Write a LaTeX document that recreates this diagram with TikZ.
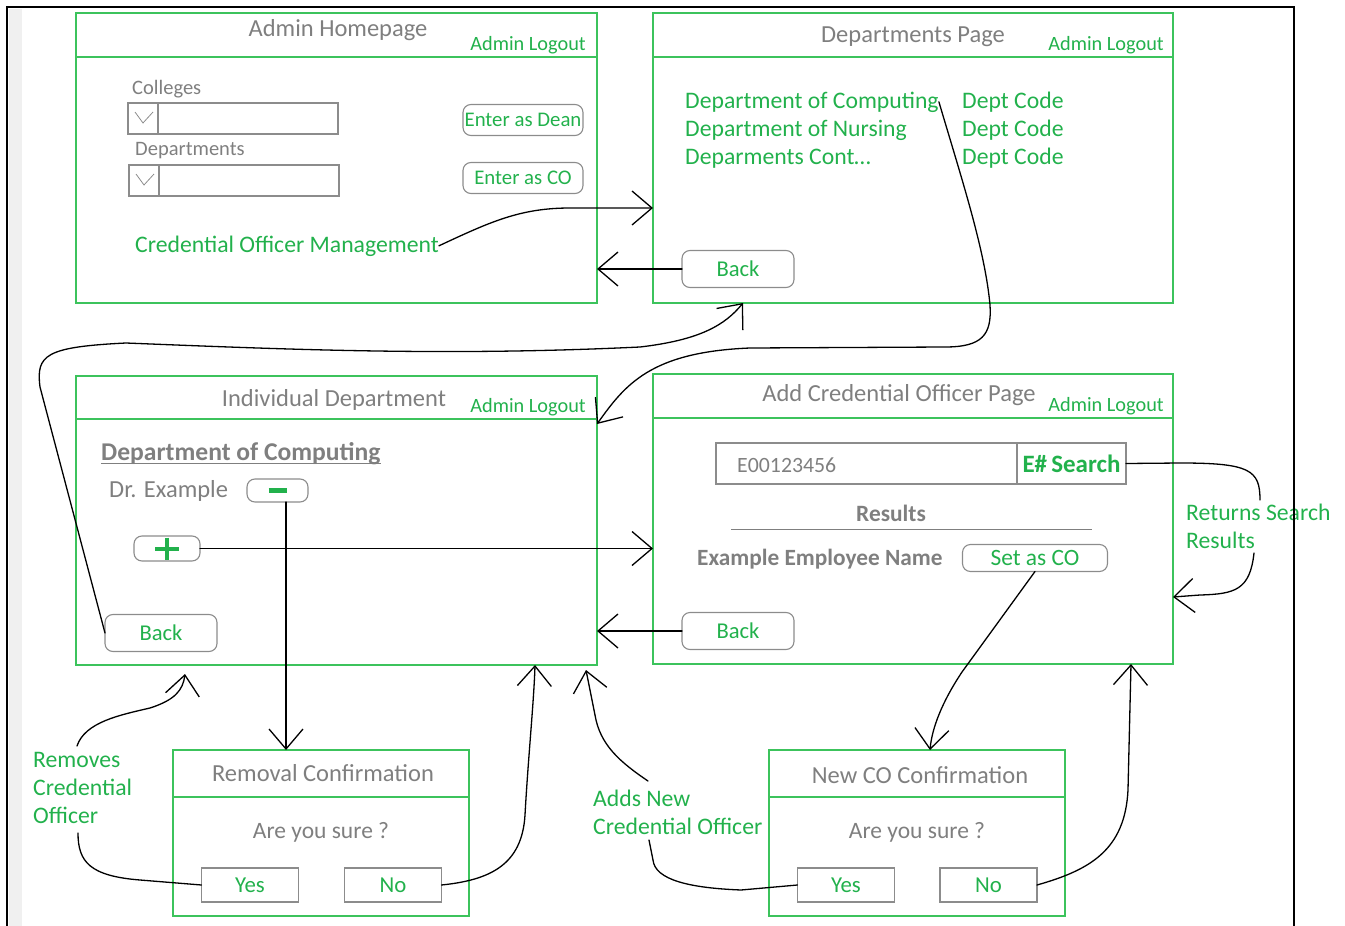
\documentclass[tikz,border=0pt]{standalone}
\usepackage{fontspec}
\setmainfont{Carlito}
\usetikzlibrary{arrows.meta,positioning}

\definecolor{uigreen}{HTML}{22B14C}
\definecolor{uiframe}{HTML}{3CC35C}
\definecolor{uigray}{HTML}{7F7F7F}
\definecolor{uiline}{HTML}{8C8C8C}

\newcommand{\fsize}[1]{\fontsize{#1}{#1}\selectfont}

\begin{document}
\begin{tikzpicture}[x=1pt,y=-1pt,
	panel/.style={draw=uiframe,line width=1.6pt,anchor=north west,inner sep=0pt,outer sep=0pt},
	header/.style={draw=uiframe,line width=1.6pt},
	title/.style={text=uigray,font=\fsize{24.5},anchor=base,inner sep=0pt},
	logout/.style={text=uigreen,font=\fsize{20.3},anchor=base east,inner sep=0pt},
	link/.style={text=uigreen,font=\fsize{23.7},anchor=base west,inner sep=0pt},
	plain/.style={text=uigray,font=\fsize{24.5},anchor=base west,inner sep=0pt},
	field/.style={text=uigray,font=\fsize{20.5},anchor=base west,inner sep=0pt},
	box/.style={draw=uiline,line width=1.1pt,anchor=north west,inner sep=0pt,outer sep=0pt},
	rbutton/.style={draw=uiline,line width=1.1pt,rounded corners=8pt,text=uigreen,font=\fsize{22.6},inner sep=0pt,outer sep=0pt},
	sbutton/.style={draw=uiline,line width=1.1pt,text=uigreen,font=\fsize{22.8},inner sep=0pt,outer sep=0pt,minimum width=97pt,minimum height=34pt},
	wire/.style={line width=1.3pt,line cap=round,line join=round},
	flow/.style={wire,-{Straight Barb[length=20pt,width=34pt]}},
]
	\useasboundingbox (0,0) rectangle (1345,926);
	\fill[black!6] (9,9) rectangle (22,926);

	\begin{scope} % pages
		\node[panel,minimum width=521pt,minimum height=290pt] (home) at (76,13) {};
		\node[panel,minimum width=520pt,minimum height=290pt] (depts) at (653,13) {};
		\node[panel,minimum width=521pt,minimum height=289pt] (indiv) at (76,376) {};
		\node[panel,minimum width=520pt,minimum height=290pt] (addco) at (653,374) {};
		\node[panel,minimum width=296pt,minimum height=166pt] (remove) at (173,750) {};
		\node[panel,minimum width=296pt,minimum height=166pt] (newco) at (769,750) {};

		\foreach \p/\w/\h in {home/521/44,depts/520/44,indiv/521/43,addco/520/44,remove/296/47,newco/296/47}
			\draw[header] (\p.north west) ++(0,\h) -- ++(\w,0);

		\node[title] (hometitle) at (338,36.5) {Admin Homepage};
		\node[title] (deptstitle) at (913,42) {Departments Page};
		\node[title] (indivtitle) at (334,406) {Individual Department};
		\node[title] (addcotitle) at (899,401) {Add Credential Officer Page};
		\node[title] (removetitle) at (323,781) {Removal Confirmation};
		\node[title] (newcotitle) at (920,783) {New CO Confirmation};

		\foreach \p/\x/\y in {home/586/50,depts/1164/50,indiv/586/412,addco/1164/411}
			\node[logout] (\p-logout) at (\x,\y) {Admin Logout};
	\end{scope}

	\begin{scope} % admin homepage
		\node[field] (collabel) at (132,94.5) {Colleges};
		\node[field] (deplabel) at (135,155.5) {Departments};
		\node[box,minimum width=210pt,minimum height=31pt] (colbox) at (128,103) {};
		\node[box,minimum width=210pt,minimum height=31pt] (depbox) at (129,165) {};
		\foreach \b in {colbox,depbox}
			{
				\draw[uiline,line width=1.1pt] ([xshift=30pt]\b.north west) -- ([xshift=30pt]\b.south west);
				\draw[uiline,line width=0.8pt] (\b.north west) ++(7,9) -- ++(8,11) -- ++(10,-11);
			}
		\node[rbutton,font=\fsize{20.8},minimum width=120pt,minimum height=31pt] (deanbtn) at (523,120) {Enter as Dean};
		\node[rbutton,font=\fsize{20.8},minimum width=120pt,minimum height=31pt] (cobtn) at (523,178) {Enter as CO};
		\node[link] (comgmt) at (135,252) {Credential Officer Management};
	\end{scope}

	\begin{scope} % departments page
		\providecommand{\rowgap}{28}
		\foreach \i/\dept in {0/Department of Computing,1/Department of Nursing,2/Deparments Cont\ldots}
			{
				\node[link] (dept\i) at (685,108+\rowgap*\i) {\dept};
				\node[link] (code\i) at (962,108+\rowgap*\i) {Dept Code};
			}
		\node[rbutton,minimum width=112pt,minimum height=37pt] (deptsback) at (738,269) {Back};
	\end{scope}

	\begin{scope} % individual department
		\node[plain,font=\bfseries\fsize{25.6}] (deptname) at (101,460) {Department of Computing};
		\draw[uigray,line width=1.5pt] ([yshift=-3.5pt]deptname.base west) -- ([yshift=-3.5pt]deptname.base east);
		\node[plain] (drname) at (109,497) {Dr. Example};
		\node[rbutton,minimum width=61pt,minimum height=23pt] (minusbtn) at (277.5,490.5) {\rule[-2pt]{18pt}{4.5pt}};
		\node[rbutton,minimum width=66pt,minimum height=25pt] (plusbtn) at (167,548.5) {};
		\draw[uigreen,line width=4pt] (plusbtn.center) ++(-12,0) -- ++(24,0) (plusbtn.center) ++(0,-11) -- ++(0,22);
		\node[rbutton,minimum width=112pt,minimum height=37pt] (indivback) at (161,633) {Back};
	\end{scope}

	\begin{scope} % add credential officer page
		\node[box,minimum width=301pt,minimum height=41pt] (empfield) at (716,443) {};
		\node[box,minimum width=109pt,minimum height=41pt,text=uigreen,font=\bfseries\fsize{25}] (searchbtn) at (1017,443) {E\#\,Search};
		\node[field,font=\fsize{21.8}] (empno) at (737,472) {E00123456};
		\node[plain,anchor=base,font=\bfseries\fsize{23.4}] (results) at (891,521) {Results};
		\draw[uigray,line width=1.2pt] (731,529.5) -- (1092,529.5);
		\node[plain,font=\bfseries\fsize{23.3}] (empname) at (697,565) {Example Employee Name};
		\node[rbutton,font=\fsize{23.4},minimum width=145pt,minimum height=27pt] (setco) at (1035,558) {Set as CO};
		\node[rbutton,minimum width=112pt,minimum height=37pt] (addcoback) at (738,631) {Back};
	\end{scope}

	\begin{scope} % confirmations
		\foreach \p/\x in {remove/321,newco/917}
			\node[plain,anchor=base,font=\fsize{23.5}] (\p-ask) at (\x,838) {Are you sure ?};
		\node[sbutton] (removeyes) at (250,885) {Yes};
		\node[sbutton] (removeno) at (393,885) {No};
		\node[sbutton] (newcoyes) at (846,885) {Yes};
		\node[sbutton] (newcono) at (988.5,885) {No};
	\end{scope}

	\begin{scope} % notes
		\foreach \i/\txt in {0/Removes,1/Credential,2/Officer}
			\node[link] (rmnote\i) at (33,767+28*\i) {\txt};
		\foreach \i/\txt in {0/Adds New,1/Credential Officer}
			\node[link] (addnote\i) at (593,806+28*\i) {\txt};
		\foreach \i/\txt in {0/Returns Search,1/Results}
			\node[link] (retnote\i) at (1186,520+28*\i) {\txt};
		\coordinate (rmtop) at (77,746);
		\coordinate (rmbot) at (78,833);
		\coordinate (addtop) at (648,781);
		\coordinate (addbot) at (649,840);
		\coordinate (rettop) at (1260,500);
		\coordinate (retbot) at (1254,553);
	\end{scope}

	\begin{scope} % flow
		\draw[flow] (comgmt.east) .. controls (490,222) and (520,208) .. (570,208) -- (570,208 -| depts.west);
		\draw[flow] (deptsback.west) -- (deptsback.west -| home.east);
		\draw[flow] (dept0.east) .. controls (962,180) and (985,250) .. (990,305) .. controls (992,335) and (982,347) .. (945,347) -- (750,348) .. controls (650,352) and (625,385) .. (indiv.east |- 0,424);
		\draw[flow] (indivback.west) -- (40,387) .. controls (36,355) and (45,347) .. (126,343) .. controls (300,350) and (450,356) .. (640,347) .. controls (700,340) and (725,325) .. (743,0 |- depts.south);
		\draw[flow] ([xshift=8.5pt]minusbtn.south) -- ([xshift=8.5pt]minusbtn.south |- remove.north);
		\draw[flow] (plusbtn.east) -- (plusbtn.east -| addco.west);
		\draw[flow] (addcoback.west) -- (addcoback.west -| indiv.east);
		\draw[wire] (searchbtn.east) -- (1180,463) .. controls (1250,463) and (1260,470) .. (rettop);
		\draw[flow] (retbot) .. controls (1250,590) and (1235,594) .. (1200,595) -- (addco.east |- 0,597);
		\draw[flow] (setco.south) -- (962,672) .. controls (942,702) and (932,728) .. (930,0 |- newco.north);
		\draw[wire] (removeyes.west) -- (140,880) .. controls (90,876) and (78,862) .. (rmbot);
		\draw[flow] (rmtop) .. controls (85,722) and (120,715) .. (150,708) .. controls (175,700) and (183,690) .. (185,674);
		\draw[flow] (removeno.east) .. controls (490,880) and (522,865) .. (525,815) .. controls (528,760) and (534,700) .. (535,0 |- indiv.south);
		\draw[wire] (newcoyes.west) -- (741,890) .. controls (690,888) and (655,880) .. (653,860) -- (addbot);
		\draw[flow] (addtop) .. controls (620,762) and (600,745) .. (595,715) -- (586,670);
		\draw[flow] (newcono.east) .. controls (1090,870) and (1125,850) .. (1128,790) -- (1131,0 |- addco.south);
	\end{scope}

	\draw[line width=2.6pt] (7,926) -- (7,7) -- (1294,7) -- (1294,926);
\end{tikzpicture}
\end{document}
